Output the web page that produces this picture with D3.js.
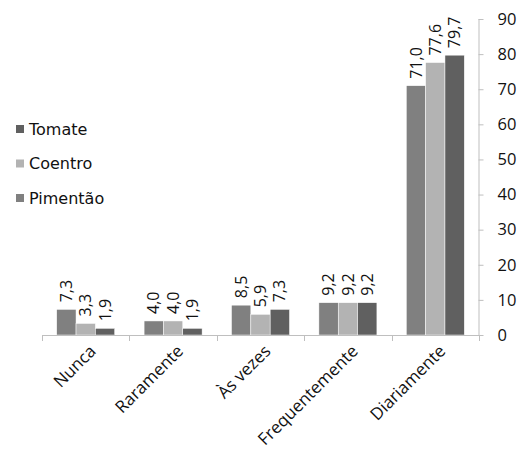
<!DOCTYPE html>
<html>
<head>
<meta charset="utf-8">
<script src="https://cdn.jsdelivr.net/npm/d3@7"></script>
<style>
  html, body { margin: 0; padding: 0; background: #fff; }
  svg { display: block; }
</style>
</head>
<body>
<svg id="chart" width="518" height="452"></svg>
<script>
// Frequency categories (x axis)
const categories = ["Nunca", "Raramente", "Às vezes", "Frequentemente", "Diariamente"];
// Series, in bar order within each group
const seriesNames = ["Pimentão", "Coentro", "Tomate"];
const pimentao = [7.3, 4.0, 8.5, 9.2, 71.0];
const coentro  = [3.3, 4.0, 5.9, 9.2, 77.6];
const tomate   = [1.9, 1.9, 7.3, 9.2, 79.7];
// Legend order (top to bottom)
const legendOrder = ["Tomate", "Coentro", "Pimentão"];
const yTicks = [0, 10, 20, 30, 40, 50, 60, 70, 80, 90];

const seriesValues = { "Pimentão": pimentao, "Coentro": coentro, "Tomate": tomate };
const colors = { "Pimentão": "#808080", "Coentro": "#b3b3b3", "Tomate": "#606060" };

const svg = d3.select("#chart");
const fontFamily = "'Open Sans', 'DejaVu Sans', sans-serif";
const axisColor = "#bfbfbf";
const textColor = "#111";

const x0 = d3.scaleBand().domain(categories).range([42, 479]).paddingInner(0).paddingOuter(0);
const x1 = d3.scaleBand().domain(seriesNames).range([0, x0.bandwidth()]).paddingInner(0).paddingOuter(0.76);
const y = d3.scaleLinear().domain([0, 90]).range([335, 19]);

// Bars
const groups = svg.append("g").selectAll("g")
  .data(categories)
  .join("g")
  .attr("transform", d => `translate(${x0(d)},0)`);

groups.selectAll("rect")
  .data((c, i) => seriesNames.map(s => ({ s, v: seriesValues[s][i] })))
  .join("rect")
  .attr("x", d => x1(d.s))
  .attr("y", d => y(d.v))
  .attr("width", x1.bandwidth())
  .attr("height", d => y(0) - y(d.v))
  .attr("fill", d => colors[d.s])
  .attr("stroke", "#ffffff")
  .attr("stroke-width", 0.5);

// Value labels, rotated, above each bar
const fmt = v => v.toFixed(1).replace(".", ",");
groups.selectAll("text.val")
  .data((c, i) => seriesNames.map(s => ({ s, v: seriesValues[s][i] })))
  .join("text")
  .attr("class", "val")
  .attr("transform", d => `translate(${x1(d.s) + x1.bandwidth() / 2},${y(d.v) - 7}) rotate(-90)`)
  .attr("dy", "0.35em")
  .attr("text-anchor", "start")
  .attr("font-family", fontFamily)
  .attr("font-size", "16px")
  .attr("fill", textColor)
  .text(d => fmt(d.v));

// X axis line and category separators
const xAxis = svg.append("g");
xAxis.append("line")
  .attr("x1", x0.range()[0]).attr("x2", x0.range()[1])
  .attr("y1", y(0) + 0.5).attr("y2", y(0) + 0.5)
  .attr("stroke", axisColor).attr("stroke-width", 1);
const sepPositions = categories.map(c => x0(c)).concat([x0.range()[1]]);
xAxis.selectAll("line.sep")
  .data(sepPositions)
  .join("line")
  .attr("class", "sep")
  .attr("x1", d => Math.round(d) + 0.5).attr("x2", d => Math.round(d) + 0.5)
  .attr("y1", y(0)).attr("y2", y(0) + 6)
  .attr("stroke", axisColor);

// Category labels, rotated 45°
xAxis.selectAll("text")
  .data(categories)
  .join("text")
  .attr("transform", d => `translate(${x0(d) + x0.bandwidth() / 2 + 7},${y(0) + 13}) rotate(-45)`)
  .attr("text-anchor", "end")
  .attr("dy", "0.35em")
  .attr("font-family", fontFamily)
  .attr("font-size", "17px")
  .attr("fill", textColor)
  .text(d => d);

// Y axis on the right
const yAxis = svg.append("g")
  .attr("transform", `translate(${x0.range()[1] - 0.5},0)`)
  .call(d3.axisRight(y).tickValues(yTicks).tickSize(5).tickPadding(14).tickFormat(d3.format("d")));
yAxis.select(".domain").attr("stroke", axisColor).attr("d", `M0.5,${y(90)}V${y(0)}`);
yAxis.selectAll(".tick line").attr("stroke", axisColor);
yAxis.selectAll(".tick text")
  .attr("font-family", fontFamily)
  .attr("font-size", "16.5px")
  .attr("fill", textColor);

// Legend
const legend = svg.append("g");
const legendY = d3.scalePoint().domain(legendOrder).range([129, 198]);
legend.selectAll("rect")
  .data(legendOrder)
  .join("rect")
  .attr("x", 16).attr("y", d => legendY(d) - 4)
  .attr("width", 8).attr("height", 8)
  .attr("fill", d => colors[d]);
legend.selectAll("text")
  .data(legendOrder)
  .join("text")
  .attr("x", 29).attr("y", d => legendY(d))
  .attr("dy", "0.36em")
  .attr("font-family", "'DejaVu Sans', sans-serif")
  .attr("font-size", "16px")
  .attr("fill", textColor)
  .text(d => d);
</script>
</body>
</html>
